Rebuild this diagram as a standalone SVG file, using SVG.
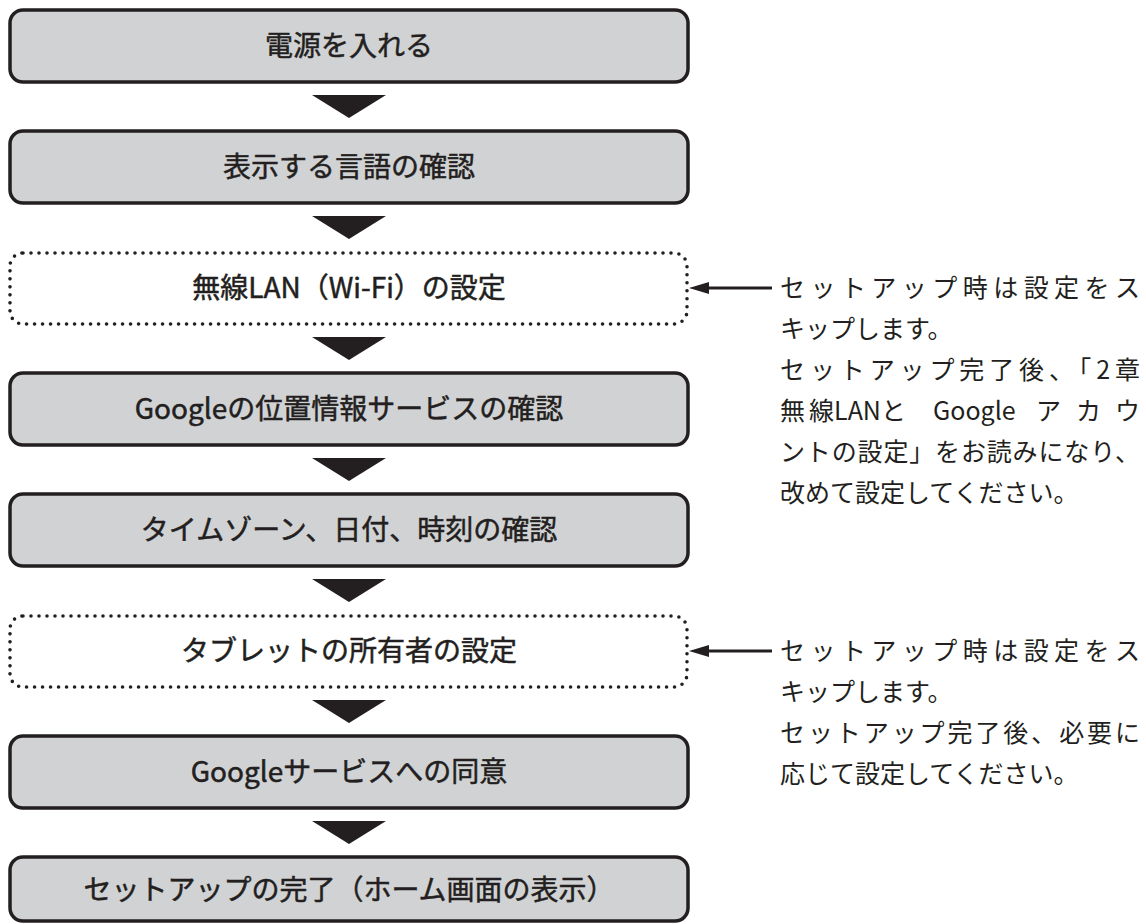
<svg xmlns="http://www.w3.org/2000/svg" width="1146" height="924" viewBox="0 0 1146 924">
<style>
.box{fill:#d1d2d4;stroke:#231f20;stroke-width:3.5}
.dot{fill:#ffffff;stroke:#231f20;stroke-width:3.6;stroke-dasharray:0 8;stroke-linecap:round}
.lbl{font-family:"Noto Sans CJK JP","Noto Sans",sans-serif;font-size:28px;font-weight:400;fill:#231f20;stroke:#231f20;stroke-width:0.5;text-anchor:middle}
.note{font-family:"Noto Sans CJK JP","Noto Sans",sans-serif;font-size:25px;font-weight:400;fill:#231f20}
.tri{fill:#231f20}
.ln{stroke:#231f20;stroke-width:3;fill:none}
</style>
<rect width="1146" height="924" fill="#ffffff"/>
<g id="n1"><rect class="box" x="10" y="10" width="678" height="72" rx="13"/><text class="lbl" x="349" y="56">電源を入れる</text></g>
<g id="n2"><rect class="box" x="10" y="131" width="678" height="72" rx="13"/><text class="lbl" x="349" y="177">表示する言語の確認</text></g>
<g id="n3"><rect class="dot" x="10" y="253" width="677" height="71" rx="13"/><text class="lbl" x="349" y="298">無線LAN（Wi-Fi）の設定</text></g>
<g id="n4"><rect class="box" x="10" y="373" width="678" height="72" rx="13"/><text class="lbl" x="349" y="419">Googleの位置情報サービスの確認</text></g>
<g id="n5"><rect class="box" x="10" y="494" width="678" height="72" rx="13"/><text class="lbl" x="349" y="540">タイムゾーン、日付、時刻の確認</text></g>
<g id="n6"><rect class="dot" x="10" y="616" width="677" height="71" rx="13"/><text class="lbl" x="349" y="661">タブレットの所有者の設定</text></g>
<g id="n7"><rect class="box" x="10" y="736" width="678" height="72" rx="13"/><text class="lbl" x="349" y="782">Googleサービスへの同意</text></g>
<g id="n8"><rect class="box" x="10" y="857" width="678" height="64" rx="13"/><text class="lbl" x="349" y="900">セットアップの完了（ホーム画面の表示）</text></g>
<g id="connectors">
<polygon class="tri" points="312,95 386,95 349,118"/>
<polygon class="tri" points="312,216 386,216 349,239"/>
<polygon class="tri" points="312,337 386,337 349,360"/>
<polygon class="tri" points="312,458 386,458 349,481"/>
<polygon class="tri" points="312,579 386,579 349,602"/>
<polygon class="tri" points="312,700 386,700 349,723"/>
<polygon class="tri" points="312,821 386,821 349,844"/>
<line class="ln" x1="706" y1="288" x2="772" y2="288"/>
<polygon class="tri" points="689,288 709,282 709,294"/>
<line class="ln" x1="706" y1="651" x2="772" y2="651"/>
<polygon class="tri" points="689,651 709,645 709,657"/>
</g>
<g id="note1">
<text class="note" x="780" y="297" textLength="360" lengthAdjust="spacing">セットアップ時は設定をス</text>
<text class="note" x="780" y="338">キップします。</text>
<text class="note" x="780" y="379" textLength="360" lengthAdjust="spacing">セットアップ完了後、「2章</text>
<text class="note" y="420"><tspan x="780">無</tspan><tspan x="809">線LANと</tspan><tspan x="933">Google</tspan><tspan x="1036">ア</tspan><tspan x="1076">カ</tspan><tspan x="1115">ウ</tspan></text>
<text class="note" x="780" y="461" textLength="360" lengthAdjust="spacing">ントの設定」をお読みになり、</text>
<text class="note" x="780" y="502">改めて設定してください。</text>
</g>
<g id="note2">
<text class="note" x="780" y="660" textLength="360" lengthAdjust="spacing">セットアップ時は設定をス</text>
<text class="note" x="780" y="701">キップします。</text>
<text class="note" x="780" y="742" textLength="360" lengthAdjust="spacing">セットアップ完了後、必要に</text>
<text class="note" x="780" y="783">応じて設定してください。</text>
</g>
</svg>
